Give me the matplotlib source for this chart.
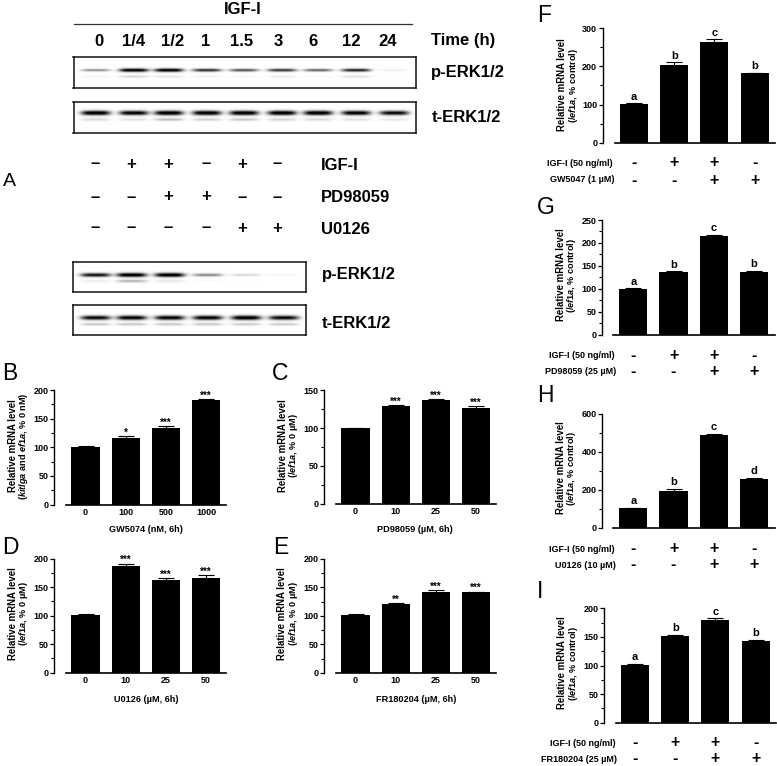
import numpy as np
import matplotlib
matplotlib.use("Agg")
import matplotlib.pyplot as plt
from matplotlib.transforms import blended_transform_factory as btf

plt.rcParams['font.family'] = ['Liberation Sans', 'DejaVu Sans']
plt.rcParams['mathtext.fontset'] = 'custom'
plt.rcParams['mathtext.rm'] = 'Liberation Sans:bold'
plt.rcParams['mathtext.it'] = 'Liberation Sans:italic:bold'
plt.rcParams['mathtext.bf'] = 'Liberation Sans:bold'

W, H = 777, 766
fig = plt.figure(figsize=(W / 100, H / 100), dpi=100, facecolor='white')

# ---------- data ----------
time_labels = ['0', '1/4', '1/2', '1', '1.5', '3', '6', '12', '24']
p1_main = [0.40, 1.00, 1.00, 0.75, 0.62, 0.72, 0.55, 0.80, 0.07]
p1_low = [0.05, 0.16, 0.10, 0.05, 0.03, 0.08, 0.03, 0.12, 0.01]
t1_main = [1.00, 0.95, 1.00, 1.00, 1.00, 1.00, 1.00, 0.95, 0.90]
t1_low = [0.16, 0.12, 0.28, 0.20, 0.24, 0.18, 0.16, 0.12, 0.10]
p2_main = [0.85, 1.00, 1.00, 0.42, 0.14, 0.04]
p2_low = [0.08, 0.32, 0.10, 0.03, 0.01, 0.00]
t2_main = [0.90, 0.95, 0.95, 0.95, 1.00, 0.90]
t2_low = [0.24, 0.24, 0.24, 0.24, 0.22, 0.22]
igf_row = ['-', '+', '+', '-', '+', '-']
pd_row = ['-', '-', '+', '+', '-', '-']
u0_row = ['-', '-', '-', '-', '+', '+']

dose_B = ['0', '100', '500', '1000']
dose_uM = ['0', '10', '25', '50']
val_B = [101, 116, 134, 183]
err_B = [1.5, 4, 2.5, 1.5]
sig_B = ['', '*', '***', '***']
val_C = [100, 129, 137, 126.5]
err_C = [0, 1.5, 1.5, 2.5]
sig_C = ['', '***', '***', '***']
val_D = [101, 187, 163, 167]
err_D = [2.5, 4.5, 3, 4.5]
sig_D = ['', '***', '***', '***']
val_E = [101, 120, 142, 141]
err_E = [2, 3, 2.5, 1.5]
sig_E = ['', '**', '***', '***']
val_F = [101, 203, 263, 183]
err_F = [2, 8, 8, 1]
let_F = ['a', 'b', 'c', 'b']
val_G = [100, 136, 216, 137]
err_G = [1, 2, 1, 2]
let_G = ['a', 'b', 'c', 'b']
val_H = [102, 195, 490, 258]
err_H = [1, 8, 5, 5]
let_H = ['a', 'b', 'c', 'd']
val_I = [101, 151, 180, 142]
err_I = [1.5, 2.5, 2.5, 3]
let_I = ['a', 'b', 'c', 'b']
igf_signs = ['-', '+', '+', '-']
drug_signs = ['-', '-', '+', '+']


# ---------- helpers ----------
def fx(x):
    return x / W


def fy(y):
    return 1 - y / H


def ftext(x, y, s, size, weight='bold', ha='left', va='center', **kw):
    return fig.text(fx(x), fy(y), s, fontsize=size, fontweight=weight, ha=ha, va=va, **kw)


def sign(s):
    return '\u2013' if s == '-' else '+'


def blot(x0, x1, y0, y1, centers, main, low, ymain, ylow, hw=14.5, sm=1.5, sl=1.3):
    ax = fig.add_axes([fx(x0), fy(y1), (x1 - x0) / W, (y1 - y0) / H])
    xs = np.arange(x0, x1, 0.5)
    ys = np.arange(y0, y1, 0.5)
    X, Y = np.meshgrid(xs, ys)
    img = np.zeros_like(X)
    for c, m, l in zip(centers, main, low):
        prof = np.exp(-((X - c) / hw) ** 4)
        img += 1.15 * m * prof * np.exp(-((Y - ymain) / (sm * (0.6 + 0.5 * m))) ** 2)
        img += l * prof * np.exp(-((Y - ylow) / sl) ** 2)
    ax.imshow(1 - np.clip(img, 0, 1), cmap='gray', vmin=0, vmax=1,
              extent=[x0, x1, y1, y0], aspect='auto', interpolation='bilinear')
    ax.set_xticks([])
    ax.set_yticks([])
    for sp in ax.spines.values():
        sp.set_linewidth(1.1)
        sp.set_color('#111111')
    return ax


def barpanel(spine_x, base_x0, base_x1, bar0, y0, ytop, vals, errs, ymax, major, minor_n,
             xticklabels=None, top_labels=None, lab_size=7.0):
    ax = fig.add_axes([fx(spine_x), fy(y0), (base_x1 - spine_x) / W, (y0 - ytop) / H])
    step = 40.2
    cen0 = bar0 + 14
    ax.set_xlim((spine_x - cen0) / step, (base_x1 - cen0) / step)
    ax.set_ylim(0, ymax)
    x = np.arange(len(vals))
    ax.bar(x, vals, width=0.7, color='black', edgecolor='none', zorder=2)
    ax.errorbar(x, vals, yerr=[np.zeros(len(errs)), errs], fmt='none', ecolor='black',
                elinewidth=0.8, capsize=5.5, capthick=0.8, zorder=1)
    for s in ('top', 'right'):
        ax.spines[s].set_visible(False)
    ax.spines['left'].set_linewidth(1.0)
    ax.spines['bottom'].set_linewidth(1.2)
    ax.spines['bottom'].set_bounds((base_x0 - cen0) / step, (base_x1 - cen0) / step)
    ax.set_yticks(major)
    minors = []
    for a, b in zip(major[:-1], major[1:]):
        minors += list(np.linspace(a, b, minor_n + 2)[1:-1])
    ax.set_yticks(minors, minor=True)
    ax.tick_params(axis='y', which='major', length=3.0, width=0.9, pad=1, labelsize=6.5)
    ax.tick_params(axis='y', which='minor', length=2.0, width=0.8)
    for t in ax.get_yticklabels():
        t.set_fontweight('bold')
    if xticklabels:
        ax.set_xticks(x)
        ax.set_xticklabels(xticklabels, fontsize=6.5, fontweight='bold')
        ax.tick_params(axis='x', length=0, pad=2.2)
    else:
        ax.set_xticks([])
    for xi, v, e, s in zip(x, vals, errs, top_labels):
        if s:
            is_star = '*' in s
            ax.annotate(s, (xi, v + e), xytext=(0, -1.2 if is_star else 1.2), textcoords='offset points',
                        ha='center', va='bottom', fontsize=lab_size, fontweight='bold', annotation_clip=False)
    return ax


def ylabels(x1, x2, y, line2):
    ftext(x1, y, 'Relative mRNA level', 6.9, rotation=90, ha='center')
    ftext(x2, y, line2, 6.6, rotation=90, ha='center')


def small_sign(s):
    return '-' if s == '-' else '+'


def sign_rows(ax, y1, y2, lab1, lab2, right, igf, drug):
    ftext(right - 1, y1, lab1, 6.5, ha='right')
    ftext(right, y2, lab2, 6.5, ha='right')
    tr = btf(ax.transData, fig.transFigure)
    for i, (a, b) in enumerate(zip(igf, drug)):
        for yy, s in ((y1, a), (y2, b)):
            ax.text(i, fy(yy), small_sign(s), transform=tr, ha='center', va='center',
                    fontsize=11.5, fontweight='bold', clip_on=False)


# ---------- panel A ----------
fig.add_artist(plt.Line2D([fx(73.5), fx(412)], [fy(24), fy(24)], color='#333333', lw=0.9))
ftext(243, 9, 'IGF-I', 12, ha='center')
c1 = [99, 134, 172.5, 206, 241.5, 278, 313, 351, 388]
for c, t in zip(c1, time_labels):
    ftext(c, 42, t, 12, ha='center')
ftext(431, 41, 'Time (h)', 12)
bc1 = [95, 133, 168, 206, 243, 281, 317, 355, 393]
blot(73.5, 416, 57, 87.5, bc1, p1_main, p1_low, 70.7, 77)
blot(73.5, 416, 102, 132.5, bc1, t1_main, t1_low, 113.5, 120, sm=2.0)
ftext(431, 72, 'p-ERK1/2', 12)
ftext(432, 118, 't-ERK1/2', 12)

c2 = [95, 131, 168, 206, 242, 277]
for y, row in zip((164, 197, 228), (igf_row, pd_row, u0_row)):
    for c, s in zip(c2, row):
        ftext(c, y, sign(s), 12, ha='center')
ftext(321, 165, 'IGF-I', 12)
ftext(321, 198, 'PD98059', 12)
ftext(321, 229, 'U0126', 12)
bc2 = [95, 131, 169, 207, 245.5, 283]
blot(72.5, 305.5, 261.5, 292, bc2, p2_main, p2_low, 275, 281, hw=15, sm=1.8)
blot(72.5, 305.5, 305, 335, bc2, t2_main, t2_low, 317.5, 324, hw=15, sm=2.0)
ftext(322, 275, 'p-ERK1/2', 12)
ftext(322, 323, 't-ERK1/2', 12)

# ---------- panels B-E ----------
barpanel(54, 66, 226, 71.5, 504.5, 390, val_B, err_B, 200, [0, 50, 100, 150, 200], 1, dose_B, sig_B)
barpanel(324, 336, 496, 341.5, 504, 390, val_C, err_C, 150, [0, 50, 100, 150], 1, dose_uM, sig_C)
barpanel(54, 66, 226, 71.5, 672.7, 558.7, val_D, err_D, 200, [0, 50, 100, 150, 200], 1, dose_uM, sig_D)
barpanel(324, 336, 496, 341.5, 673, 558.7, val_E, err_E, 200, [0, 50, 100, 150, 200], 1, dose_uM, sig_E)
ylabels(13, 24, 446, r'($\mathit{kitlga}$ and $\mathit{ef1a}$, % 0 nM)')
ylabels(283, 294, 446, r'(/$\mathit{ef1a}$, % 0 µM)')
ylabels(13, 24, 614, r'(/$\mathit{ef1a}$, % 0 µM)')
ylabels(282, 293, 614, r'(/$\mathit{ef1a}$, % 0 µM)')
ftext(146, 529, 'GW5074 (nM, 6h)', 6.6, ha='center')
ftext(415, 530, 'PD98059 (µM, 6h)', 6.6, ha='center')
ftext(146, 699, 'U0126 (µM, 6h)', 6.6, ha='center')
ftext(416, 699, 'FR180204 (µM, 6h)', 6.6, ha='center')

# ---------- panels F-I ----------
axF = barpanel(602.7, 615, 775, 620, 142.7, 28.3, val_F, err_F, 300, [0, 100, 200, 300], 1, None, let_F, 8)
axG = barpanel(602, 613, 775, 619.3, 334.7, 220, val_G, err_G, 250, [0, 50, 100, 150, 200, 250], 1, None, let_G, 8)
axH = barpanel(602, 613, 775, 619.3, 527.7, 413.7, val_H, err_H, 600, [0, 200, 400, 600], 1, None, let_H, 8)
axI = barpanel(604, 616, 776, 621, 722.7, 608.3, val_I, err_I, 200, [0, 50, 100, 150, 200], 1, None, let_I, 8)
cf = r'(/$\mathit{ef1a}$, % control)'
ylabels(562, 573, 85, cf)
ylabels(561, 572, 275, cf)
ylabels(561, 572, 468, cf)
ylabels(562, 573, 663, cf)
sign_rows(axF, 163, 180, 'IGF-I (50 ng/ml)', 'GW5047 (1 µM)', 614, igf_signs, drug_signs)
sign_rows(axG, 355.7, 371.7, 'IGF-I (50 ng/ml)', 'PD98059 (25 µM)', 616, igf_signs, drug_signs)
sign_rows(axH, 549, 565, 'IGF-I (50 ng/ml)', 'U0126 (10 µM)', 616, igf_signs, drug_signs)
sign_rows(axI, 743, 759, 'IGF-I (50 ng/ml)', 'FR180204 (25 µM)', 617, igf_signs, drug_signs)

# ---------- panel letters ----------
ftext(3, 182, 'A', 14, weight='normal')
for s, x, y in [('B', 2, 373), ('C', 272, 373), ('D', 2, 548), ('E', 273, 548),
                ('F', 537, 15), ('G', 537, 207), ('H', 537, 395), ('I', 537, 592)]:
    ftext(x, y, s, 16.5, weight='normal')

fig.savefig('out.png', dpi=100, facecolor='white')
